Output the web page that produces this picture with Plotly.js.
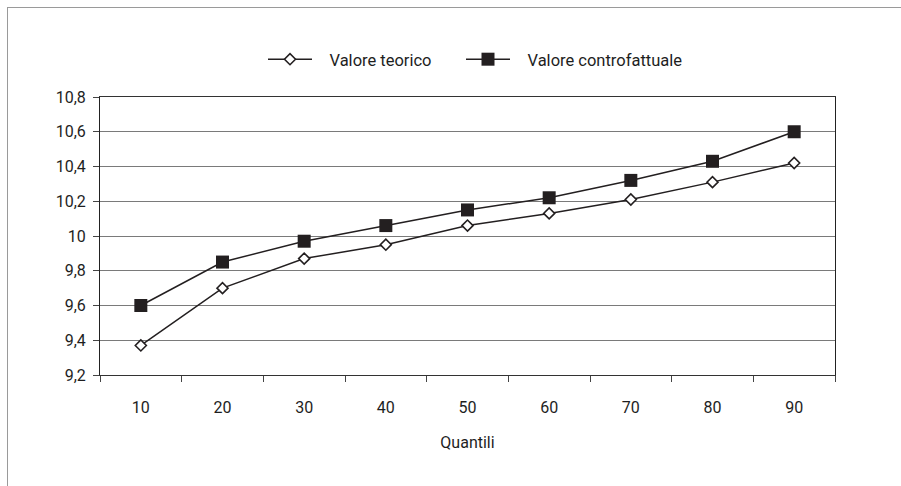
<!DOCTYPE html>
<html>
<head>
<meta charset="utf-8">
<script src="https://cdn.plot.ly/plotly-3.0.1.min.js"></script>
<style>
  html, body { margin: 0; padding: 0; background: #fff; }
  #wrap { position: relative; width: 901px; height: 486px; overflow: hidden; }
  #frame { position: absolute; left: 7px; top: 7px; width: 1000px; height: 1000px;
           border-left: 1px solid #9a9a9a; border-top: 1px solid #9a9a9a; pointer-events: none; }
  #chart { position: absolute; left: 0; top: 0; width: 901px; height: 486px; }
</style>
</head>
<body>
<div id="wrap">
  <div id="chart"></div>
  <div id="frame"></div>
</div>
<script>
const quantili = ['10', '20', '30', '40', '50', '60', '70', '80', '90'];
const valoreTeorico = [9.37, 9.70, 9.87, 9.95, 10.06, 10.13, 10.21, 10.31, 10.42];
const valoreControfattuale = [9.60, 9.85, 9.97, 10.06, 10.15, 10.22, 10.32, 10.43, 10.60];
const nomeTeorico = 'Valore teorico';
const nomeControfattuale = 'Valore controfattuale';
const titoloX = 'Quantili';

const font = 'Roboto, "Noto Sans", sans-serif';
const ink = '#231f20';
const txt = '#1e1e1e';
const gap = '\u2002\u00a0';

const traces = [
  {
    x: quantili, y: valoreTeorico, name: gap + nomeTeorico, type: 'scatter', mode: 'lines+markers',
    legend: 'legend',
    line: { color: ink, width: 1.5 },
    marker: { symbol: 'diamond', size: 8.5, color: '#ffffff', line: { color: ink, width: 1.6 } }
  },
  {
    x: quantili, y: valoreControfattuale, name: gap + nomeControfattuale, type: 'scatter', mode: 'lines+markers',
    legend: 'legend2',
    line: { color: ink, width: 1.5 },
    marker: { symbol: 'square', size: 13, color: ink, line: { color: ink, width: 0 } }
  }
];

const legendBase = {
  orientation: 'h', xanchor: 'left', y: 1.135, yanchor: 'middle',
  font: { family: font, size: 16.5, color: txt },
  itemwidth: 44, bgcolor: 'rgba(0,0,0,0)', borderwidth: 0
};

const layout = {
  width: 901, height: 486,
  margin: { l: 100, r: 66, t: 97, b: 111 },
  paper_bgcolor: '#ffffff', plot_bgcolor: '#ffffff',
  separators: ',.',
  font: { family: font, size: 15, color: txt },
  showlegend: true,
  legend: Object.assign({}, legendBase, { x: (263 - 100) / 735 }),
  legend2: Object.assign({}, legendBase, { x: (461 - 100) / 735 }),
  xaxis: {
    type: 'category',
    tickson: 'boundaries',
    ticks: 'outside', ticklen: 6, tickcolor: '#444', tickwidth: 1,
    ticklabelstandoff: 18,
    showline: true, linecolor: '#333', linewidth: 1, mirror: true,
    showgrid: false, zeroline: false,
    tickfont: { family: font, size: 16, color: txt },
    title: { text: titoloX, standoff: 20, font: { family: font, size: 16, color: txt } },
    range: [-0.5, 8.5]
  },
  yaxis: {
    range: [9.2, 10.8], dtick: 0.2, tick0: 9.2,
    ticks: 'outside', ticklen: 6, tickcolor: '#444', tickwidth: 1,
    ticklabelstandoff: 4,
    showline: true, linecolor: '#222', linewidth: 1, mirror: true,
    showgrid: true, gridcolor: '#7a7a7a', gridwidth: 1, zeroline: false,
    tickfont: { family: font, size: 16, color: txt }
  }
};

Plotly.newPlot('chart', traces, layout, { displayModeBar: false, staticPlot: true });
</script>
</body>
</html>
